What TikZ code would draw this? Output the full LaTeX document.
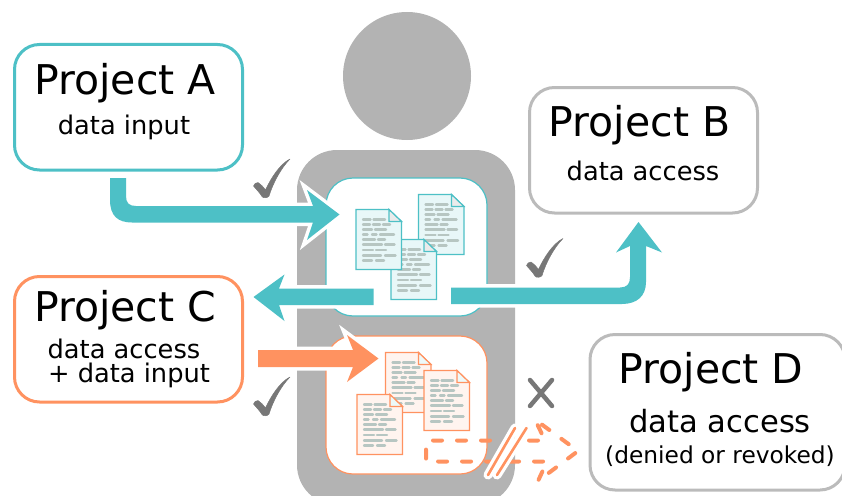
\documentclass[tikz,border=0pt]{standalone}
\usepackage{fontspec}
\setmainfont{DejaVu Sans}
\definecolor{teal1}{HTML}{4DC0C6}
\definecolor{orange1}{HTML}{FF9260}
\definecolor{body1}{HTML}{B3B3B3}
\definecolor{boxgray}{HTML}{BBBBBB}
\definecolor{mark1}{HTML}{777777}
\definecolor{docline}{HTML}{B7C6C2}
\tikzset{
  projbox/.style={draw=#1,line width=3pt,rounded corners=25pt,fill=white},
  panelbox/.style={draw=#1,line width=1.2pt,rounded corners=27pt,fill=white},
  blockarrow/.style={fill=#1,preaction={draw=white,line width=7pt,line join=miter,miter limit=8}},
  bigtext/.style={font=\fontsize{41}{44}\selectfont,inner sep=0pt,text=black},
  smalltext/.style={font=\fontsize{25.7}{30}\selectfont,inner sep=0pt,text=black},
  checkmark/.pic={
    \fill[mark1,line join=round,draw=mark1,line width=0.5pt]
      (0.5,27) .. controls (1,25) and (3,23.5) .. (5,23.5)
      .. controls (8,25) and (10,28) .. (12.5,31)
      .. controls (18,19) and (27,5) .. (37,0)
      .. controls (28,9) and (20,24) .. (16,37)
      .. controls (15,39) and (10,39.5) .. (9,37.5)
      .. controls (7,34) and (3,30) .. (0.5,27) -- cycle;
  },
  docpage/.pic={
    \draw[draw=docedge,fill=docfill,line width=1.2pt,line join=miter]
      (0,0) -- (33,0) -- (45.5,12) -- (45.5,60) -- (0,60) -- cycle;
    \draw[draw=docedge,fill=foldfill,line width=1.2pt,line join=miter]
      (33,0) -- (33,12) -- (45.5,12) -- cycle;
    \foreach \r/\a/\b in {10/7/14.5,10/17.5/29,15/7/14,15/17/24,15/27/34,20/7/16,20/19/30,
      25/7/11.5,25/16/20.5,25/24/38,30/7/19,30/22/29,35/7/26,35/29/38.5,40.5/7/17,40.5/20/30,
      46/7/25,46/29/39.5,51/7/16,51/20/28}
      \draw[docline,line width=2.4pt,line cap=round] (\a,\r) -- (\b,\r);
  }
}
\begin{document}
\begin{tikzpicture}[x=1pt,y=-1pt]
\path[use as bounding box,clip] (0,0) rectangle (842,495);
% person
\fill[body1] (407,76) circle[radius=64pt];
\fill[body1,rounded corners=40pt] (297,150) rectangle (515,505);
% panels
\node[panelbox=teal1,minimum width=161pt,minimum height=138pt,inner sep=0pt] (toppanel) at (406.5,247) {};
\node[panelbox=orange1,minimum width=161pt,minimum height=138pt,inner sep=0pt] (botpanel) at (406.5,405) {};
% documents, teal
\colorlet{docedge}{teal1}\colorlet{docfill}{teal1!13}\colorlet{foldfill}{black!8}
\pic at (418.5,194.5) {docpage};
\pic at (391,239.5) {docpage};
\pic at (356,209.5) {docpage};
% documents, orange
\colorlet{docedge}{orange1}\colorlet{docfill}{orange1!10}\colorlet{foldfill}{teal1!10}
\pic at (385.5,352.5) {docpage};
\pic at (424,370.5) {docpage};
\pic at (357,394.5) {docpage};
% project boxes
\path[projbox=teal1] (14.5,44.5) rectangle (242.5,170);
\path[projbox=boxgray] (529.5,87.5) rectangle (757.5,213);
\path[projbox=orange1] (14.5,276.5) rectangle (242.5,402);
\path[projbox=boxgray] (590,334.5) rectangle (845,490);
% texts
\node[bigtext] (ta) at (125,83) {Project A};
\node[smalltext] (tai) at (124,127.5) {data input};
\node[bigtext] (tb) at (639.5,125) {Project B};
\node[smalltext] (tbi) at (643,171) {data access};
\node[bigtext] (tc) at (125,310) {Project C};
\node[smalltext] (tci) at (124,349) {data access};
\node[smalltext] (tcj) at (129,375) {+ data input};
\node[bigtext] (td) at (711,372) {Project D};
\node[font=\fontsize{30.6}{34}\selectfont,inner sep=0pt] (tdi) at (720,421.5) {data access};
\node[font=\fontsize{23.3}{26}\selectfont,inner sep=0pt] (tdj) at (720,456) {(denied or revoked)};
% arrows
\path[blockarrow=teal1] (110,178) -- (110,200) .. controls (110,216) and (118,222.5) .. (132,222.5)
  -- (313,222.5) -- (307,240) -- (339.5,214.5) -- (307,190) -- (313,206) -- (136,206)
  .. controls (129,206) and (126,203) .. (126,196) -- (126,178) -- cycle;
\path[blockarrow=teal1] (373.5,288.5) -- (279,288.5) -- (284.5,274.5) -- (253.5,297) -- (284.5,321) -- (279,305) -- (373.5,305) -- cycle;
\path[blockarrow=teal1] (451,287.5) -- (620,287.5) .. controls (627,287.5) and (630,284) .. (630,277)
  -- (630,246) -- (616,252.5) -- (638.5,222) -- (662,252.5) -- (646,246)
  -- (646,282) .. controls (646,296) and (637,304) .. (622,304) -- (451,304) -- cycle;
\path[blockarrow=orange1] (258,350) -- (353,350) -- (347,335) -- (378.5,358.5) -- (347,382) -- (353,367) -- (258,367) -- cycle;
% marks
\pic at (253,159) {checkmark};
\pic at (526,238.5) {checkmark};
\pic at (253,377) {checkmark};
\draw[mark1,line width=4.5pt,line cap=round] (530,380) -- (552,406) (552,380) -- (530,406);
% dashed arrow
\draw[orange1,line width=4pt,dash pattern=on 9pt off 15pt,line cap=round]
  (433,440.5) -- (545,440.5) -- (535,419.5) -- (578,451) -- (538,481) -- (547,461.5) -- (426,461.5) -- (426,444);
% break mark
\draw[white,line width=9pt,line cap=round] (515,428) -- (488,475) (526.5,428) -- (497,475);
\draw[orange1,line width=2.6pt,line cap=round] (515,428) -- (488,475) (526.5,428) -- (497,475);
\end{tikzpicture}
\end{document}
